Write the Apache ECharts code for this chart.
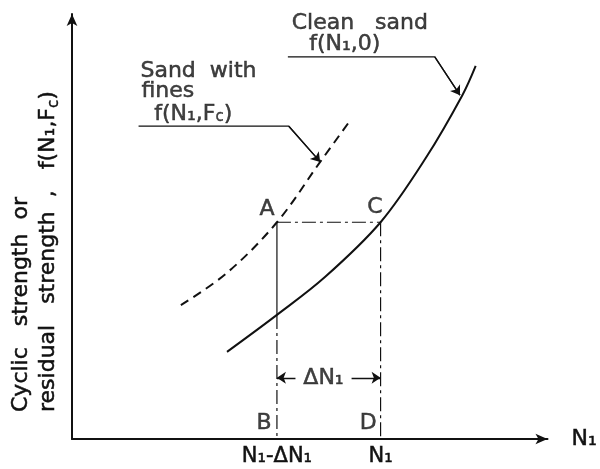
<!DOCTYPE html>
<html>
<head>
<meta charset="utf-8">
<script src="https://cdn.jsdelivr.net/npm/echarts@6/dist/echarts.min.js"></script>
<style>
  html, body { margin: 0; padding: 0; background: #fff; }
  #chart { width: 600px; height: 469px; }
</style>
</head>
<body>
<div id="chart"></div>
<script>
// Schematic axes run 0..100 in both directions (no numeric scale shown)
const xRange = [0, 100];
const yRange = [0, 100];

// Curves
const cleanSand = [[32.6, 20.5], [43.1, 29.2], [53.2, 38.1], [64.9, 51], [74.4, 66.1], [82.1, 80.9], [84.9, 87.8]];
const sandWithFines = [[22.9, 31.5], [32.6, 39.1], [43.1, 51], [52.2, 65.2], [58.6, 75.1]];

// Construction points A, B, C, D and the clean-sand value below A
const pointA = [43.1, 51];
const pointC = [64.9, 51];
const pointB = [43.1, 0];
const pointD = [64.9, 0];
const belowA = [43.1, 29.2];

// Leader lines (horizontal part, then arrow to curve)
const cleanLeader = [[45.4, 89.9], [76.3, 89.9], [81.6, 80.9]];
const finesLeader = [[14.0, 73.6], [45.6, 73.6], [52.2, 65.2]];

// Delta N1 dimension line
const dimY = 14.4;
const dimGap = [47.0, 58.8];

// x tick labels
const xTickValues = [43.1, 64.9];
const xTickLabels = ['N₁-ΔN₁', 'N₁'];

// annotations: text, x, y
const leftNotes = [
  ['Clean   sand', 46.2, 97.8],
  ['f(N₁,0)', 49.9, 92.8],
  ['Sand  with', 14.4, 86.6],
  ['fines', 14.6, 81.9],
  ['{t|f(N₁,F}{s|c}{t|)}', 17.3, 76.5]
];
const centerNotes = [
  ['A', 41.0, 54.1],
  ['C', 63.7, 54.6],
  ['B', 40.4, 3.6],
  ['D', 62.3, 3.6],
  ['ΔN₁', 52.9, dimY]
];

const yTitle = '{t|Cyclic   strength  or}\n{t|residual   strength  ,   f(N₁,F}{s|c}{t|)}';

const ink = '#111';
const font = 'DejaVu Sans';
const fs = 22;
const dashDot = [14, 4, 3, 4];

const chart = echarts.init(document.getElementById('chart'));

// rich styles for series labels
const rich = {
  t: { fontFamily: font, fontSize: fs, color: ink, textBorderColor: ink, textBorderWidth: 0.5 },
  s: { fontFamily: font, fontSize: 15, color: ink, textBorderColor: ink, textBorderWidth: 0.4, verticalAlign: 'bottom', padding: [7, 0, 0, 0] }
};
// rich styles for the raw graphic text (zrender names)
const richG = {
  t: { fontFamily: font, fontSize: fs, fill: ink, stroke: ink, lineWidth: 0.5 },
  s: { fontFamily: font, fontSize: 15, fill: ink, stroke: ink, lineWidth: 0.4, verticalAlign: 'bottom', padding: [7, 0, 0, 0] }
};

function plainLine(data, type, width) {
  return {
    type: 'line',
    data: data,
    showSymbol: false,
    symbol: 'none',
    smooth: false,
    silent: true,
    lineStyle: { color: ink, width: width, type: type }
  };
}

function noteItems(list, align) {
  return list.map(n => ({
    value: [n[1], n[2]],
    label: {
      show: true,
      position: [0, 0],
      align: align,
      verticalAlign: 'middle',
      formatter: n[0].indexOf('{') >= 0 ? n[0] : '{t|' + n[0] + '}',
      rich: rich
    }
  }));
}

const option = {
  animation: false,
  grid: { left: 72, right: 43, top: 14, bottom: 30 },
  xAxis: {
    type: 'value',
    min: xRange[0],
    max: xRange[1],
    splitLine: { show: false },
    axisTick: { show: false },
    axisLine: {
      show: true,
      symbol: ['none', 'arrow'],
      symbolSize: [8, 12],
      lineStyle: { color: ink, width: 2 }
    },
    axisLabel: {
      show: true,
      customValues: xTickValues,
      margin: 7,
      fontFamily: font,
      fontSize: fs - 1,
      color: ink,
      textBorderColor: ink,
      textBorderWidth: 0.5,
      formatter: function (value) {
        let best = 0;
        xTickValues.forEach((v, i) => {
          if (Math.abs(v - value) < Math.abs(xTickValues[best] - value)) best = i;
        });
        return xTickLabels[best];
      }
    },
    name: 'N₁',
    nameLocation: 'end',
    nameGap: 24,
    nameTextStyle: { fontFamily: font, fontSize: fs, color: ink, textBorderColor: ink, textBorderWidth: 0.5 }
  },
  yAxis: {
    type: 'value',
    min: yRange[0],
    max: yRange[1],
    splitLine: { show: false },
    axisTick: { show: false },
    axisLabel: { show: false },
    axisLine: {
      show: true,
      symbol: ['none', 'arrow'],
      symbolSize: [8, 12],
      lineStyle: { color: ink, width: 2 }
    }
  },
  graphic: [
    {
      type: 'text',
      x: 35,
      y: 412,
      rotation: Math.PI / 2,
      silent: true,
      style: {
        text: yTitle,
        align: 'left',
        verticalAlign: 'middle',
        lineHeight: 27,
        rich: richG
      }
    }
  ],
  series: [
    Object.assign(plainLine(cleanSand, 'solid', 2), { smooth: 0.35 }),
    Object.assign(plainLine(sandWithFines, [9, 6], 2), { smooth: 0.35 }),
    plainLine([pointA, pointC], dashDot, 1.2),
    plainLine([pointC, pointD], dashDot, 1.2),
    plainLine([pointA, belowA], 'solid', 1.2),
    plainLine([belowA, pointB], dashDot, 1.2),
    plainLine(cleanLeader, 'solid', 1.3),
    plainLine(finesLeader, 'solid', 1.3),
    {
      type: 'lines',
      coordinateSystem: 'cartesian2d',
      silent: true,
      symbol: ['none', 'arrow'],
      symbolSize: 9,
      lineStyle: { color: ink, width: 1.3, opacity: 1, curveness: 0 },
      data: [
        { coords: [cleanLeader[1], cleanLeader[2]] },
        { coords: [finesLeader[1], finesLeader[2]] },
        { coords: [[dimGap[0], dimY], [pointA[0], dimY]] },
        { coords: [[dimGap[1], dimY], [pointC[0], dimY]] }
      ]
    },
    {
      type: 'scatter',
      symbolSize: 0,
      silent: true,
      data: noteItems(leftNotes, 'left').concat(noteItems(centerNotes, 'center'))
    }
  ]
};

chart.setOption(option);
</script>
</body>
</html>
